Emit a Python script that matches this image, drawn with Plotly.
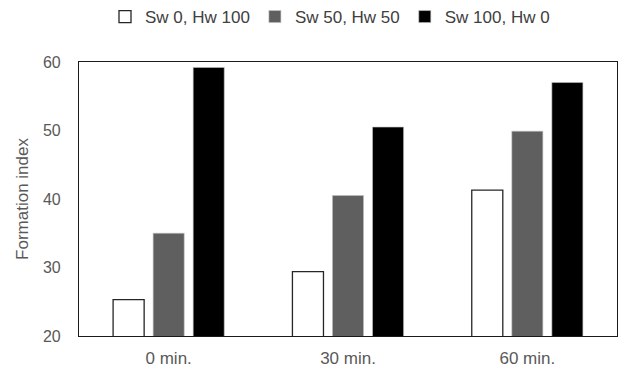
import plotly.graph_objects as go

categories = ["0 min.", "30 min.", "60 min."]
series_names = ["Sw 0, Hw 100", "Sw 50, Hw 50", "Sw 100, Hw 0"]
sw0_hw100 = [25.3, 29.4, 41.3]
sw50_hw50 = [35.0, 40.5, 49.9]
sw100_hw0 = [59.2, 50.5, 57.0]
y_ticks = [20, 30, 40, 50, 60]

fills = ["#ffffff", "#5f5f5f", "#000000"]
lines = ["#262626", "#bfbfbf", "#bfbfbf"]

fig = go.Figure()
for name, vals, fc, lc in zip(series_names, [sw0_hw100, sw50_hw50, sw100_hw0], fills, lines):
    fig.add_trace(go.Bar(x=categories, y=vals, name=name,
                         marker=dict(color=fc, line=dict(color=lc, width=1.3 if fc == "#ffffff" else 0.6))))

font = "Liberation Sans, Arial, sans-serif"
W, H = 628, 372
fig.update_layout(
    width=W, height=H,
    margin=dict(l=71, r=19, t=54, b=44, autoexpand=False),
    paper_bgcolor="white", plot_bgcolor="white",
    barmode="group", bargap=0.33, bargroupgap=0.225,
    font=dict(family=font, size=16, color="#595959"),
    showlegend=True,
    legend=dict(orientation="h", xref="container", x=322 / W, xanchor="center",
                yref="container", y=1 - 9 / H, yanchor="middle",
                font=dict(size=17, color="#404040"),
                itemwidth=30, tracegroupgap=0, traceorder="normal"),
    xaxis=dict(showline=True, linecolor="#1a1a1a", linewidth=1.2, mirror=True,
               ticks="", ticklabelstandoff=6, automargin=False,
               tickfont=dict(size=17, color="#595959"), showgrid=False),
    yaxis=dict(range=[20, 60], tickvals=y_ticks, showline=True, linecolor="#1a1a1a",
               linewidth=1.2, mirror=True, ticks="", showgrid=False, zeroline=False,
               ticklabelstandoff=14, automargin=False,
               tickfont=dict(size=16, color="#595959"),
               title=dict(text="Formation index", font=dict(size=17, color="#595959"), standoff=9)),
)
fig.write_html("out.html")
